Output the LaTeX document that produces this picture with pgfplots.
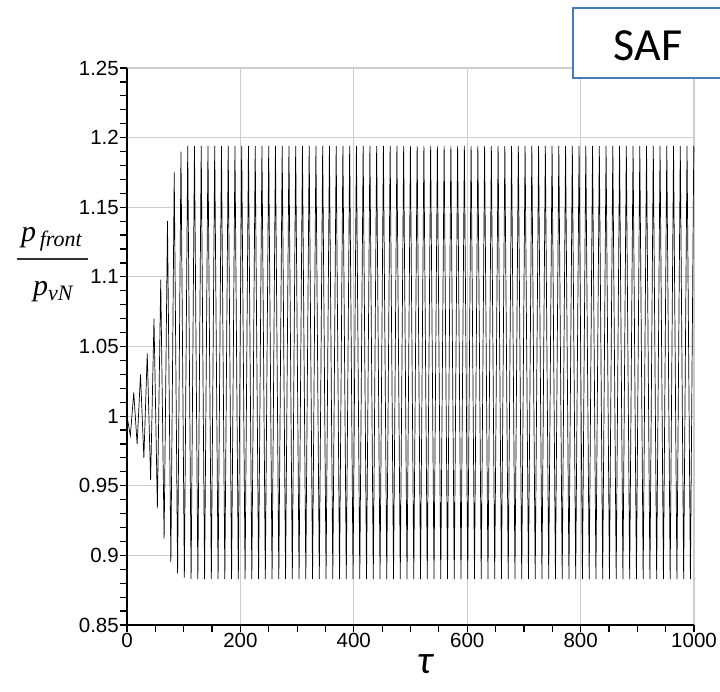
\documentclass[border=0pt]{standalone}
\usepackage{pgfplots}
\pgfplotsset{compat=1.18}
\usepackage{pgfplotstable}
\usepackage{fontspec}
\setmainfont{Liberation Sans}
\newfontfamily\timesf{Liberation Serif}
\newfontfamily\calib{Carlito}
\definecolor{safblue}{RGB}{72,122,190}
\definecolor{gridc}{RGB}{205,205,205}
\pgfplotstableread{
t p
0 1.000
5.95 0.986
11.9 1.017
17.85 0.980
23.8 1.030
29.75 0.970
35.7 1.045
41.65 0.954
47.6 1.070
53.55 0.934
59.5 1.098
65.45 0.912
71.4 1.140
77.35 0.895
83.3 1.175
89.25 0.887
95.2 1.190
101.15 0.884
107.1 1.194
113.05 0.883
119 1.194
124.95 0.883
130.9 1.194
136.85 0.883
142.8 1.194
148.75 0.883
154.7 1.194
160.65 0.883
166.6 1.194
172.55 0.883
178.5 1.194
184.45 0.883
190.4 1.194
196.35 0.883
202.3 1.194
208.25 0.883
214.2 1.194
220.15 0.883
226.1 1.194
232.05 0.883
238 1.194
243.95 0.883
249.9 1.194
255.85 0.883
261.8 1.194
267.75 0.883
273.7 1.194
279.65 0.883
285.6 1.194
291.55 0.883
297.5 1.194
303.45 0.883
309.4 1.194
315.35 0.883
321.3 1.194
327.25 0.883
333.2 1.194
339.15 0.883
345.1 1.194
351.05 0.883
357 1.194
362.95 0.883
368.9 1.194
374.85 0.883
380.8 1.194
386.75 0.883
392.7 1.194
398.65 0.883
404.6 1.194
410.55 0.883
416.5 1.194
422.45 0.883
428.4 1.194
434.35 0.883
440.3 1.194
446.25 0.883
452.2 1.194
458.15 0.883
464.1 1.194
470.05 0.883
476 1.194
481.95 0.883
487.9 1.194
493.85 0.883
499.8 1.194
505.75 0.883
511.7 1.194
517.65 0.883
523.6 1.194
529.55 0.883
535.5 1.194
541.45 0.883
547.4 1.194
553.35 0.883
559.3 1.194
565.25 0.883
571.2 1.194
577.15 0.883
583.1 1.194
589.05 0.883
595 1.194
600.95 0.883
606.9 1.194
612.85 0.883
618.8 1.194
624.75 0.883
630.7 1.194
636.65 0.883
642.6 1.194
648.55 0.883
654.5 1.194
660.45 0.883
666.4 1.194
672.35 0.883
678.3 1.194
684.25 0.883
690.2 1.194
696.15 0.883
702.1 1.194
708.05 0.883
714 1.194
719.95 0.883
725.9 1.194
731.85 0.883
737.8 1.194
743.75 0.883
749.7 1.194
755.65 0.883
761.6 1.194
767.55 0.883
773.5 1.194
779.45 0.883
785.4 1.194
791.35 0.883
797.3 1.194
803.25 0.883
809.2 1.194
815.15 0.883
821.1 1.194
827.05 0.883
833 1.194
838.95 0.883
844.9 1.194
850.85 0.883
856.8 1.194
862.75 0.883
868.7 1.194
874.65 0.883
880.6 1.194
886.55 0.883
892.5 1.194
898.45 0.883
904.4 1.194
910.35 0.883
916.3 1.194
922.25 0.883
928.2 1.194
934.15 0.883
940.1 1.194
946.05 0.883
952 1.194
957.95 0.883
963.9 1.194
969.85 0.883
975.8 1.194
981.75 0.883
987.7 1.194
993.65 0.883
999.6 1.194
1000 1.190
}\datatab
\begin{document}
\begin{tikzpicture}
\useasboundingbox (0pt,0pt) rectangle (720pt,692pt);
\begin{axis}[
  at={(127pt,67pt)}, anchor=south west,
  scale only axis, width=567pt, height=557pt,
  xmin=0, xmax=1000, ymin=0.85, ymax=1.25,
  axis lines*=left,
  axis line style={line width=2.2pt, black},
  tick align=outside,
  major tick length=7pt, minor tick length=7pt,
  every tick/.style={black, line width=1.2pt},
  xtick={0,200,400,600,800,1000},
  xticklabels={0,200,400,600,800,1000},
  minor x tick num=3,
  ytick={0.85,0.9,0.95,1,1.05,1.1,1.15,1.2,1.25},
  yticklabels={0.85,0.9,0.95,1,1.05,1.1,1.15,1.2,1.25},
  minor y tick num=4,
  grid=major,
  major grid style={gridc, line width=1.2pt},
  /pgf/number format/assume math mode=true,
  tick label style={font=\fontsize{20.5}{20.5}\selectfont, inner sep=1pt, black},
  clip=false,
]
\addplot[black, line width=0.7pt] table[x=t, y=p] {\datatab};
\end{axis}
% y label
\node[anchor=base west, inner sep=0pt] at (21pt,450pt) {\timesf\itshape\fontsize{30}{30}\selectfont p\raisebox{-5pt}{\fontsize{22}{22}\selectfont\,front}};
\draw[line width=2.6pt, black!80] (17pt,433pt) -- (88pt,433pt);
\node[anchor=base west, inner sep=0pt] at (33pt,396pt) {\timesf\itshape\fontsize{30}{30}\selectfont p\raisebox{-5pt}{\fontsize{22}{22}\selectfont vN}};
% x label
\node[anchor=base, inner sep=0pt] at (425pt,18pt) {\calib\itshape\fontsize{40}{40}\selectfont τ};
% SAF box
\fill[white] (573pt,614pt) rectangle (730pt,684pt);
\draw[safblue, line width=2.5pt] (730pt,684pt) -- (573pt,684pt) -- (573pt,614pt) -- (730pt,614pt);
\node[inner sep=0pt] at (648pt,646pt) {\calib\fontsize{46}{46}\selectfont SAF};
\end{tikzpicture}
\end{document}
